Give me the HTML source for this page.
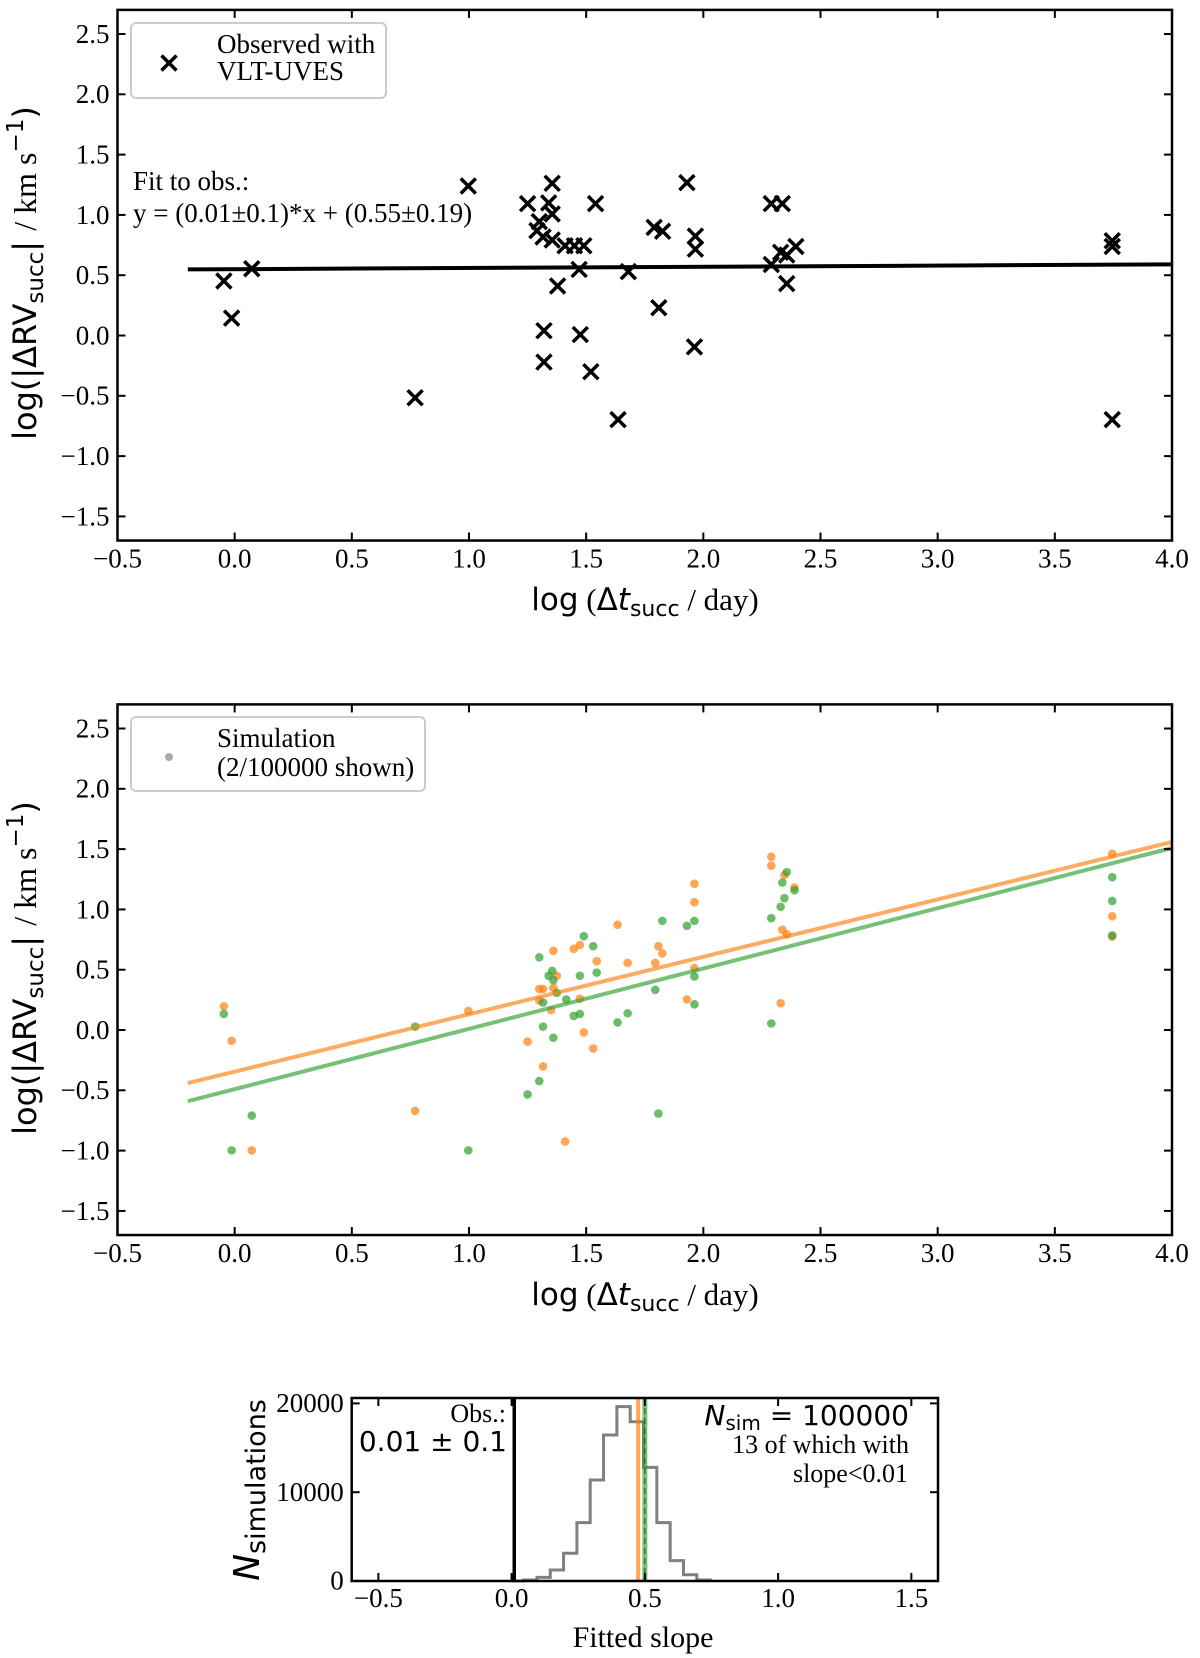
<!DOCTYPE html>
<html><head><meta charset="utf-8"><style>
html,body{margin:0;padding:0;background:#fff;}
svg{display:block;}
.tick{font-family:"Liberation Serif",serif;font-size:27px;fill:#000;}
.serif{font-family:"Liberation Serif",serif;fill:#000;}
.sans{font-family:"DejaVu Sans",sans-serif;fill:#000;}
</style></head><body>
<svg id="fig" width="1200" height="1658" viewBox="0 0 1200 1658" xmlns="http://www.w3.org/2000/svg">
<rect width="1200" height="1658" fill="#fff"/>
<g id="top"></g>
<g id="mid"></g>
<g id="hist"></g>
</svg>
<script>
// ---- data ----
const obsX = [-0.046,-0.013,0.073,0.77,0.997,1.25,1.355,1.34,1.355,1.30,1.316,1.355,1.29,1.41,1.45,1.49,1.47,1.378,1.32,1.32,1.475,1.52,1.54,1.636,1.68,1.79,1.826,1.81,1.93,1.966,1.966,1.962,2.29,2.337,2.29,2.33,2.356,2.395,2.356,3.745,3.745,3.745];
const obsY = [0.452,0.144,0.554,-0.516,1.24,1.094,1.262,1.10,1.008,0.944,0.817,0.792,0.87,0.744,0.744,0.744,0.548,0.411,0.04,-0.22,0.008,-0.30,1.094,-0.697,0.53,0.897,0.865,0.23,1.268,0.824,0.716,-0.094,1.094,1.094,0.589,0.69,0.668,0.738,0.43,0.786,0.738,-0.697];
const obsFit = [0.01, 0.55]; // slope, intercept
const fitRange = [-0.2, 4.0];

const orangeX = [-0.046,-0.013,0.073,0.77,0.997,1.25,1.30,1.316,1.316,1.30,1.35,1.36,1.36,1.375,1.447,1.473,1.473,1.49,1.41,1.53,1.545,1.634,1.677,1.795,1.808,1.825,1.93,1.962,1.962,1.962,2.29,2.29,2.346,2.389,2.337,2.356,2.33,3.745,3.745,3.745];
const orangeY = [0.197,-0.089,-0.998,-0.671,0.158,-0.096,0.34,0.34,-0.302,0.244,0.165,0.657,0.349,0.45,0.673,0.705,0.26,-0.02,-0.925,-0.153,0.571,0.873,0.556,0.556,0.695,0.635,0.254,0.514,1.06,1.213,1.436,1.363,1.286,1.181,0.832,0.794,0.222,1.461,0.943,0.775];
const greenX = [-0.046,-0.013,0.073,0.77,0.997,1.25,1.30,1.30,1.316,1.316,1.34,1.355,1.36,1.36,1.375,1.415,1.447,1.473,1.473,1.49,1.53,1.545,1.634,1.677,1.795,1.808,1.825,1.93,1.962,1.962,1.962,2.29,2.29,2.33,2.346,2.337,2.356,2.389,3.745,3.745,3.745];
const greenY = [0.133,-0.998,-0.709,0.028,-0.998,-0.534,-0.423,0.603,0.228,0.028,0.45,0.49,0.413,-0.064,0.308,0.254,0.117,0.133,0.45,0.778,0.695,0.476,0.063,0.139,0.333,-0.693,0.905,0.864,0.905,0.444,0.213,0.927,0.054,1.022,1.093,1.223,1.309,1.159,1.267,1.07,0.784];
const orangeFit = [0.476, -0.345];
const greenFit = [0.50, -0.49];

const xTicks = [-0.5,0.0,0.5,1.0,1.5,2.0,2.5,3.0,3.5,4.0];
const xTickLabels = ["\u22120.5","0.0","0.5","1.0","1.5","2.0","2.5","3.0","3.5","4.0"];
const yTicks = [-1.5,-1.0,-0.5,0.0,0.5,1.0,1.5,2.0,2.5];
const yTickLabels = ["\u22121.5","\u22121.0","\u22120.5","0.0","0.5","1.0","1.5","2.0","2.5"];

const binEdges = [0.045,0.095,0.145,0.195,0.245,0.295,0.345,0.395,0.445,0.495,0.545,0.595,0.645,0.695,0.745];
const binCounts = [110,410,1240,3120,6570,11370,16440,19630,17940,12800,6570,2290,710,110];
const obsSlope = 0.01;
const simSlopeOrange = 0.475;
const simSlopeGreen = 0.50;
const hxTicks = [-0.5,0.0,0.5,1.0,1.5];
const hxTickLabels = ["\u22120.5","0.0","0.5","1.0","1.5"];
const hyTicks = [0,10000,20000];
const hyTickLabels = ["0","10000","20000"];

// ---- helpers ----
const NS="http://www.w3.org/2000/svg";
function mk(tag, attrs, parent){const e=document.createElementNS(NS,tag);for(const k in attrs)e.setAttribute(k,attrs[k]);parent.appendChild(e);return e;}

function axesFrame(g, L,R,T,B, xs, ys, xt, xtl, yt, ytl, fs, pfx){
  for(let i=0;i<xt.length;i++){
    const x=xs(xt[i]);
    const t1=mk('line',{x1:x,x2:x,y1:B,y2:B-8,stroke:'#000','stroke-width':2},g);
    
    
    mk('line',{x1:x,x2:x,y1:T,y2:T+8,stroke:'#000','stroke-width':2},g);
    const lb=mk('text',{x:x,y:B+fs+0,'text-anchor':'middle',class:'tick','font-size':fs},g);
    lb.textContent=xtl[i];
    
    
  }
  for(let i=0;i<yt.length;i++){
    const y=ys(yt[i]);
    const t1=mk('line',{x1:L,x2:L+8,y1:y,y2:y,stroke:'#000','stroke-width':2},g);
    
    
    mk('line',{x1:R,x2:R-8,y1:y,y2:y,stroke:'#000','stroke-width':2},g);
    const lb=mk('text',{x:L-8,y:y+fs*0.33,'text-anchor':'end',class:'tick','font-size':fs},g);
    lb.textContent=ytl[i];
    
    
  }
}
function spine(g,L,R,T,B,pfx){
  const r=mk('rect',{x:L,y:T,width:R-L,height:B-T,fill:'none',stroke:'#000','stroke-width':2.5},g);
  
  
}

// ---- scatter panels ----
const L=117.5,R=1172;
const xs=v=>L+(v+0.5)*(R-L)/4.5;
function panel(g,T,pfx){
  const B=T+4.4*120.6;
  const ys=v=>T+(2.7-v)*120.6;
  return {B,ys};
}
function ylabel(g,cy){
  const t=mk('text',{transform:`translate(36,${cy}) rotate(-90)`,'text-anchor':'middle',class:'sans','font-size':32},g);
  t.innerHTML='log(|ΔRV<tspan font-size="23" dy="7">succ</tspan><tspan dy="-7">| </tspan><tspan font-family="Liberation Serif">/ km s</tspan><tspan font-size="23" dy="-13">−1</tspan><tspan dy="13">)</tspan>';
  
  
}
function xlabel(g,y){
  const t=mk('text',{x:645,y:y,'text-anchor':'middle',class:'sans','font-size':31},g);
  t.innerHTML='log<tspan font-family="Liberation Serif"> (</tspan>Δ<tspan font-style="italic">t</tspan><tspan font-size="22" dy="6">succ</tspan><tspan dy="-6" font-family="Liberation Serif"> / day)</tspan>';
  
  
}

// top panel
(function(){
  const g=document.getElementById('top');
  const T=9.9; const {B,ys}=panel(g,T,'top-');
  const fl=mk('line',{x1:xs(fitRange[0]),y1:ys(obsFit[0]*fitRange[0]+obsFit[1]),x2:xs(fitRange[1]),y2:ys(obsFit[0]*fitRange[1]+obsFit[1]),stroke:'#000','stroke-width':4},g);
  
  
  for(let i=0;i<obsX.length;i++){
    const cx=xs(obsX[i]),cy=ys(obsY[i]),h=7.5;
    const p=mk('path',{d:`M${cx-h},${cy-h}L${cx+h},${cy+h}M${cx-h},${cy+h}L${cx+h},${cy-h}`,stroke:'#000','stroke-width':3.5,fill:'none'},g);
    
    
  }
  axesFrame(g,L,R,T,B,xs,ys,xTicks,xTickLabels,yTicks,yTickLabels,27,'top-');
  spine(g,L,R,T,B,'top-');
  const lg=mk('g',{},g);
  
  
  mk('rect',{x:131,y:23,width:255,height:75,rx:5,fill:'#fff','fill-opacity':0.8,stroke:'#ccc','stroke-width':2},lg);
  mk('path',{d:'M161.5,55.5L176.5,70.5M161.5,70.5L176.5,55.5',stroke:'#000','stroke-width':3.5},lg);
  const t1=mk('text',{x:217,y:53,class:'serif','font-size':27},lg);t1.textContent='Observed with';
  const t2=mk('text',{x:217,y:80,class:'serif','font-size':27},lg);t2.textContent='VLT-UVES';
  const f1=mk('text',{x:133,y:190,class:'serif','font-size':27},g);f1.textContent='Fit to obs.:';
  
  
  const f2=mk('text',{x:133,y:222,class:'serif','font-size':27},g);f2.textContent='y = (0.01±0.1)*x + (0.55±0.19)';
  
  
  ylabel(g,273);
  xlabel(g,610);
})();

// middle panel
(function(){
  const g=document.getElementById('mid');
  const T=704.4; const {B,ys}=panel(g,T,'mid-');
  for(let i=0;i<orangeX.length;i++){
    const c=mk('circle',{cx:xs(orangeX[i]),cy:ys(orangeY[i]),r:4.3,fill:'#ff7f0e','fill-opacity':0.7},g);
    
    
  }
  for(let i=0;i<greenX.length;i++){
    const c=mk('circle',{cx:xs(greenX[i]),cy:ys(greenY[i]),r:4.3,fill:'#2ca02c','fill-opacity':0.7},g);
    
    
  }
  const lo=mk('line',{x1:xs(fitRange[0]),y1:ys(orangeFit[0]*fitRange[0]+orangeFit[1]),x2:xs(fitRange[1]),y2:ys(orangeFit[0]*fitRange[1]+orangeFit[1]),stroke:'#ff7f0e','stroke-opacity':0.65,'stroke-width':4},g);
  
  
  const lgn=mk('line',{x1:xs(fitRange[0]),y1:ys(greenFit[0]*fitRange[0]+greenFit[1]),x2:xs(fitRange[1]),y2:ys(greenFit[0]*fitRange[1]+greenFit[1]),stroke:'#2ca02c','stroke-opacity':0.65,'stroke-width':4},g);
  
  
  axesFrame(g,L,R,T,B,xs,ys,xTicks,xTickLabels,yTicks,yTickLabels,27,'mid-');
  spine(g,L,R,T,B,'mid-');
  const lg=mk('g',{},g);
  
  
  mk('rect',{x:131,y:717,width:294,height:74,rx:5,fill:'#fff','fill-opacity':0.8,stroke:'#ccc','stroke-width':2},lg);
  mk('circle',{cx:169,cy:757,r:4,fill:'#aaa'},lg);
  const t1=mk('text',{x:217,y:747,class:'serif','font-size':27},lg);t1.textContent='Simulation';
  const t2=mk('text',{x:217,y:776,class:'serif','font-size':27},lg);t2.textContent='(2/100000 shown)';
  ylabel(g,968);
  xlabel(g,1305);
})();

// histogram
(function(){
  const g=document.getElementById('hist');
  const HL=351.7,HR=938,HT=1398,HB=1581;
  const hx=v=>HL+(v+0.6)*(HR-HL)/2.2;
  const hy=v=>HB-v*88.8/10000;
  let d=`M${hx(0)},${hy(0)}L${hx(binEdges[0])},${hy(0)}`;
  for(let i=0;i<binCounts.length;i++){
    d+=`L${hx(binEdges[i])},${hy(binCounts[i])}L${hx(binEdges[i+1])},${hy(binCounts[i])}`;
  }
  d+=`L${hx(binEdges[binEdges.length-1])},${hy(0)}`;
  const p=mk('path',{d:d,fill:'none',stroke:'#808080','stroke-width':3},g);
  
  
  const vo=mk('line',{x1:hx(simSlopeOrange),x2:hx(simSlopeOrange),y1:HT,y2:HB,stroke:'#ff7f0e','stroke-opacity':0.7,'stroke-width':4},g);
  
  
  const vg=mk('line',{x1:hx(simSlopeGreen),x2:hx(simSlopeGreen),y1:HT,y2:HB,stroke:'#2ca02c','stroke-opacity':0.65,'stroke-width':5},g);
  
  
  mk('line',{x1:hx(simSlopeGreen),x2:hx(simSlopeGreen),y1:HT,y2:HB,stroke:'#1a4d1a','stroke-width':1,'stroke-dasharray':'6,4'},g);
  const vb=mk('line',{x1:hx(obsSlope),x2:hx(obsSlope),y1:HT,y2:HB,stroke:'#000','stroke-width':3.5},g);
  
  
  axesFrame(g,HL,HR,HT,HB,hx,hy,hxTicks,hxTickLabels,hyTicks,hyTickLabels,26,'hist-');
  spine(g,HL,HR,HT,HB,'hist-');
  const o1=mk('text',{x:506,y:1422,'text-anchor':'end',class:'serif','font-size':26},g);o1.textContent='Obs.:';
  
  
  const o2=mk('text',{x:507,y:1451,'text-anchor':'end',class:'sans','font-size':28},g);o2.textContent='0.01 ± 0.1';
  
  
  const n1=mk('text',{x:909,y:1425,'text-anchor':'end',class:'sans','font-size':28},g);
  n1.innerHTML='<tspan font-style="italic">N</tspan><tspan font-size="20" dy="5">sim</tspan><tspan dy="-5"> = 100000</tspan>';
  
  
  const n2=mk('text',{x:909,y:1453,'text-anchor':'end',class:'serif','font-size':26},g);n2.textContent='13 of which with';
  
  
  const n3=mk('text',{x:908,y:1482,'text-anchor':'end',class:'serif','font-size':26},g);n3.textContent='slope<0.01';
  
  
  const xl=mk('text',{x:643,y:1647,'text-anchor':'middle',class:'serif','font-size':30},g);xl.textContent='Fitted slope';
  
  
  const yl=mk('text',{transform:'translate(259,1490) rotate(-90)','text-anchor':'middle',class:'sans','font-size':36},g);
  yl.innerHTML='<tspan font-style="italic">N</tspan><tspan font-size="27" dy="6">simulations</tspan>';
  
  
})();
</script>
</body></html>
